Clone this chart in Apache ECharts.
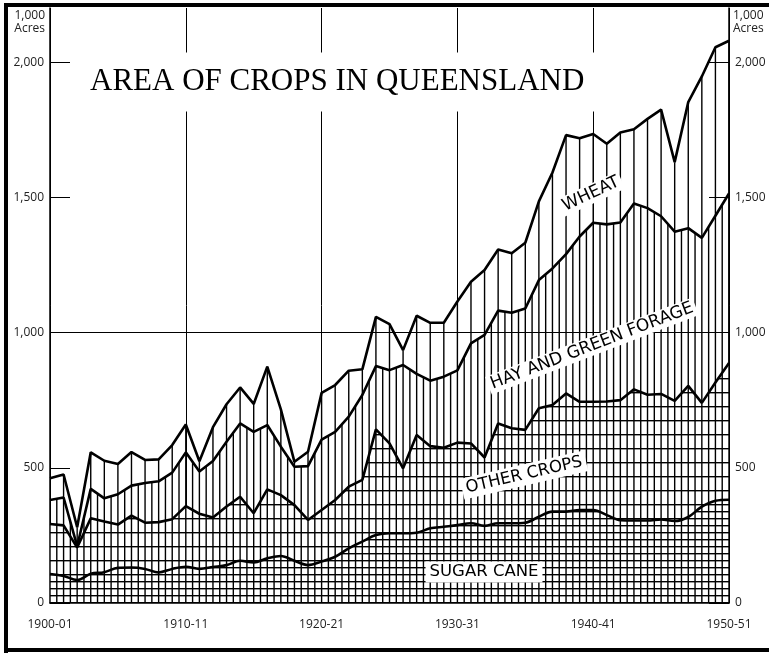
<!DOCTYPE html>
<html>
<head>
<meta charset="utf-8">
<script src="https://cdn.jsdelivr.net/npm/echarts@6/dist/echarts.min.js"></script>
<style>
html,body{margin:0;padding:0;background:#fff;}
#chart{width:769px;height:655px;}
</style>
</head>
<body>
<div id="chart"></div>
<script>
// Category labels (crop years)
const years = ['1900-01','1901-02','1902-03','1903-04','1904-05','1905-06','1906-07','1907-08','1908-09','1909-10',
  '1910-11','1911-12','1912-13','1913-14','1914-15','1915-16','1916-17','1917-18','1918-19','1919-20',
  '1920-21','1921-22','1922-23','1923-24','1924-25','1925-26','1926-27','1927-28','1928-29','1929-30',
  '1930-31','1931-32','1932-33','1933-34','1934-35','1935-36','1936-37','1937-38','1938-39','1939-40',
  '1940-41','1941-42','1942-43','1943-44','1944-45','1945-46','1946-47','1947-48','1948-49','1949-50','1950-51'];

// Cumulative band tops, thousand acres
const sugarCane = [107,100,85,108,114,130,131,126,113,126,134,126,133,140,156,150,165,174,156,140,153,
  171,202,227,251,258,258,260,276,282,288,295,285,295,295,297,319,338,338,344,344,
  325,306,305,305,309,303,318,356,378,382];
const otherCrops = [292,287,205,313,301,290,323,297,299,310,358,330,316,357,393,332,420,399,362,307,344,
  381,430,455,642,590,498,621,580,574,593,590,538,664,646,640,720,732,775,744,744,
  745,750,790,770,773,747,803,740,815,887];
const hayForage = [381,390,210,422,387,402,434,444,450,482,557,486,525,596,664,633,658,578,504,506,604,
  633,689,769,876,861,880,847,822,837,860,960,991,1081,1073,1089,1194,1237,1290,1355,1406,
  1400,1407,1477,1460,1430,1373,1386,1350,1432,1514];
const wheat = [461,475,280,557,526,514,558,529,531,584,660,524,650,735,797,736,874,716,522,559,777,
  806,859,864,1058,1031,935,1062,1036,1036,1115,1188,1231,1307,1293,1332,1485,1592,1730,1718,1734,
  1698,1740,1752,1790,1824,1630,1852,1947,2055,2079];

const yTicks = [0, 500, 1000, 1500, 2000];

function fmt(v){ return v >= 1000 ? Math.floor(v/1000) + ',' + String(v%1000).padStart(3,'0') : String(v); }

function hPattern(step){
  const c = document.createElement('canvas');
  c.width = 8; c.height = step;
  const g = c.getContext('2d');
  g.fillStyle = '#fff'; g.fillRect(0,0,8,step);
  g.fillStyle = '#000'; g.fillRect(0,0,8,1.4);
  return c;
}

const chart = echarts.init(document.getElementById('chart'), null, {renderer:'canvas'});
const labelFont = 'Open Sans';
const bandFont = '"DejaVu Sans"';

const yAxisCommon = {
  type:'value', min:0, max:2200, interval:500,
  axisLine:{show:true, lineStyle:{color:'#000', width:1.5}},
  axisTick:{show:true, inside:true, length:20, lineStyle:{color:'#000', width:1}},
  splitLine:{show:false},
  axisLabel:{fontFamily:labelFont, fontSize:12, color:'#222', margin:6, showMaxLabel:false,
    formatter: v => yTicks.indexOf(v) >= 0 ? fmt(v) : ''}
};

const option = {
  animation:false,
  backgroundColor:'#fff',
  grid:{left:50, right:40, top:8, bottom:52},
  xAxis:{
    type:'category', data:years, boundaryGap:false,
    axisLine:{lineStyle:{color:'#000', width:1.5}},
    axisTick:{show:false},
    axisLabel:{interval:9, fontFamily:labelFont, fontSize:12, color:'#222', margin:16},
    splitLine:{show:true, interval:9, lineStyle:{color:'#000', width:1}}
  },
  yAxis:[
    Object.assign({position:'left'}, yAxisCommon),
    Object.assign({position:'right'}, yAxisCommon)
  ],
  series:[
    {
      type:'line', data:otherCrops, symbol:'none', silent:true, z:2,
      lineStyle:{width:0},
      areaStyle:{color:{image:hPattern(14), repeat:'repeat'}, opacity:1},
      markLine:{silent:true, symbol:'none', label:{show:false},
        lineStyle:{color:'#000', width:1, type:'solid'}, data:[{yAxis:1000}]}
    },
    {
      type:'line', data:sugarCane, symbol:'none', silent:true, smooth:0.35, z:3,
      lineStyle:{width:0},
      areaStyle:{color:{image:hPattern(7), repeat:'repeat'}, opacity:1}
    },
    {
      type:'custom', z:4, silent:true, clip:true,
      data: years.map((y,i) => [i, wheat[i]]),
      encode:{x:0, y:1},
      renderItem: function(params, api){
        const i = params.dataIndex;
        const base = api.coord([i, 0]);
        const top = api.coord([i, wheat[i]]);
        const children = [{type:'line', shape:{x1:base[0], y1:base[1], x2:top[0], y2:top[1]},
          style:{stroke:'#000', lineWidth:1.4}}];
        if (i < years.length - 1){
          const a = api.coord([i, hayForage[i]]);
          const b = api.coord([i+1, hayForage[i+1]]);
          const mx = (a[0]+b[0])/2, my = (a[1]+b[1])/2;
          children.push({type:'line', shape:{x1:mx, y1:base[1], x2:mx, y2:my},
            style:{stroke:'#000', lineWidth:1.4}});
        }
        return {type:'group', children:children};
      }
    },
    {type:'line', name:'Wheat', data:wheat, symbol:'none', z:5, lineStyle:{color:'#000', width:2.6}},
    {type:'line', name:'Hay and Green Forage', data:hayForage, symbol:'none', z:5, lineStyle:{color:'#000', width:2.6}},
    {type:'line', name:'Other Crops', data:otherCrops, symbol:'none', z:5, lineStyle:{color:'#000', width:2.6}},
    {type:'line', name:'Sugar Cane', data:sugarCane, symbol:'none', smooth:0.35, z:5, lineStyle:{color:'#000', width:2.6}}
  ],
  graphic:[
    // frame
    {type:'rect', z:100, shape:{x:4, y:3, width:765, height:4}, style:{fill:'#000'}},
    {type:'rect', z:100, shape:{x:4, y:3, width:4, height:650}, style:{fill:'#000'}},
    {type:'rect', z:100, shape:{x:4, y:648, width:765, height:4}, style:{fill:'#000'}},
    // title
    {type:'text', z:100, x:82, y:82, style:{text:'AREA OF CROPS IN QUEENSLAND', font:'31px "Liberation Serif"',
      fill:'#000', align:'left', verticalAlign:'middle', backgroundColor:'#fff', padding:[14,10,14,8]}},
    // unit labels
    {type:'text', z:100, x:45, y:16, style:{text:'1,000', font:'12px "Open Sans"', fill:'#222', align:'right', verticalAlign:'middle'}},
    {type:'text', z:100, x:45, y:29, style:{text:'Acres', font:'12px "Open Sans"', fill:'#222', align:'right', verticalAlign:'middle'}},
    {type:'text', z:100, x:733, y:16, style:{text:'1,000', font:'12px "Open Sans"', fill:'#222', align:'left', verticalAlign:'middle'}},
    {type:'text', z:100, x:733, y:29, style:{text:'Acres', font:'12px "Open Sans"', fill:'#222', align:'left', verticalAlign:'middle'}},
    // band labels
    {type:'text', z:100, x:591, y:194, rotation:25*Math.PI/180, style:{text:'WHEAT', font:'17px ' + bandFont,
      fill:'#000', align:'center', verticalAlign:'middle', backgroundColor:'#fff', padding:[1,3]}},
    {type:'text', z:100, x:592, y:346, rotation:21*Math.PI/180, style:{text:'HAY AND GREEN FORAGE', font:'17px ' + bandFont,
      fill:'#000', align:'center', verticalAlign:'middle', backgroundColor:'#fff', padding:[1,3]}},
    {type:'text', z:100, x:524, y:475, rotation:13*Math.PI/180, style:{text:'OTHER CROPS', font:'16.5px ' + bandFont,
      fill:'#000', align:'center', verticalAlign:'middle', backgroundColor:'#fff', padding:[2,4]}},
    {type:'text', z:100, x:484, y:572, style:{text:'SUGAR CANE', font:'16.5px ' + bandFont,
      fill:'#000', align:'center', verticalAlign:'middle', backgroundColor:'#fff', padding:[2,4]}}
  ]
};
chart.setOption(option);
</script>
</body>
</html>
